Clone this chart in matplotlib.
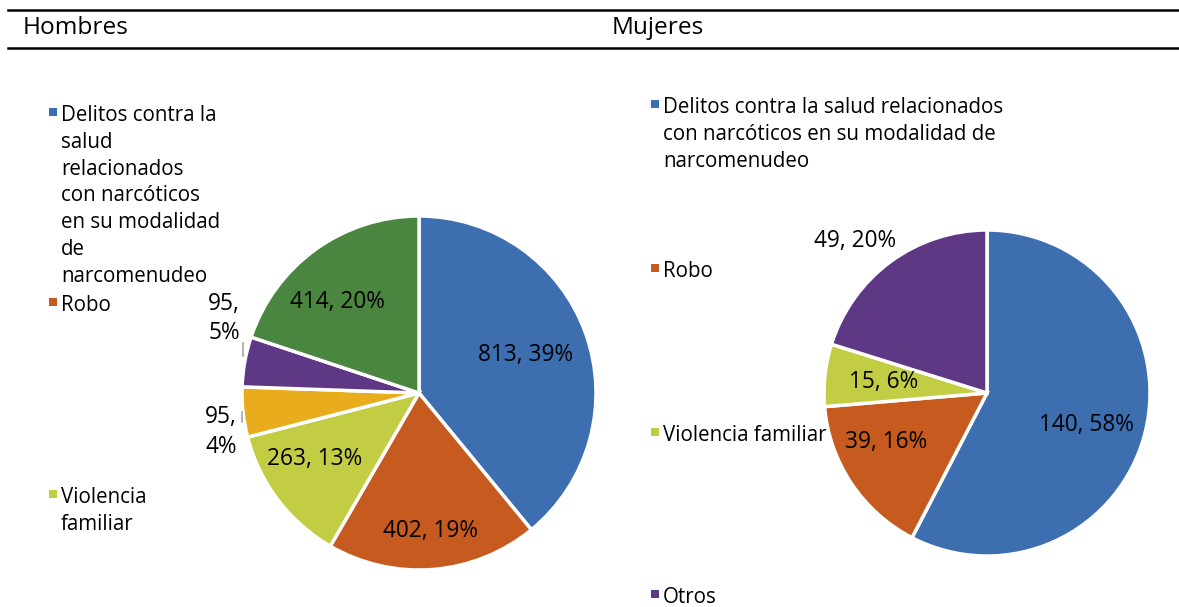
import matplotlib
matplotlib.use("Agg")
import matplotlib.pyplot as plt
from matplotlib.lines import Line2D
from matplotlib.patches import Rectangle
import numpy as np

plt.rcParams['font.family'] = ['Open Sans', 'DejaVu Sans']

# ---- data ----
hombres_vals = [813, 402, 263, 95, 95, 414]
hombres_pct = ["39%", "19%", "13%", "4%", "5%", "20%"]
hombres_colors = ["#3D6EB0", "#C65A1F", "#C3CD44", "#E8AC1C", "#5E3785", "#4A863F"]

mujeres_vals = [140, 39, 15, 49]
mujeres_pct = ["58%", "16%", "6%", "20%"]
mujeres_colors = ["#3D6EB0", "#C65A1F", "#C3CD44", "#5E3785"]

legend_left = ["Delitos contra la\nsalud\nrelacionados\ncon narcóticos\nen su modalidad\nde\nnarcomenudeo",
               "Robo", "Violencia\nfamiliar"]
legend_right = ["Delitos contra la salud relacionados\ncon narcóticos en su modalidad de\nnarcomenudeo",
                "Robo", "Violencia familiar", "Otros"]
legend_left_colors = ["#3D6EB0", "#C65A1F", "#C3CD44"]
legend_right_colors = ["#3D6EB0", "#C65A1F", "#C3CD44", "#5E3785"]

W, H = 1179, 607
fig = plt.figure(figsize=(W / 100, H / 100), dpi=100)
FS = 14.8      # legend text
FL = 16.3      # slice labels
FT = 17.6      # panel titles
LS = 1.36


def fx(px):
    return px / W


def fy(py):
    return 1 - py / H


# header rules and titles
for y in (9.5, 47.5):
    fig.add_artist(Line2D([fx(8), 1.0], [fy(y), fy(y)], color="black", lw=1.8))
fig.text(fx(23), fy(28), "Hombres", fontsize=FT, va="center", ha="left")
fig.text(fx(612), fy(28), "Mujeres", fontsize=FT, va="center", ha="left")


def make_pie(cx, cy, r, vals, colors):
    ax = fig.add_axes([fx(cx - r), fy(cy + r), (2 * r) / W, (2 * r) / H])
    wedges, _ = ax.pie(vals, colors=colors, startangle=90, counterclock=False,
                       wedgeprops=dict(edgecolor="white", linewidth=2.5))
    ax.set_xlim(-1, 1)
    ax.set_ylim(-1, 1)
    ax.set_aspect("equal")
    ax.axis("off")
    return ax, wedges


def inner_label(ax, wedge, text, frac, dang=0.0):
    ang = np.deg2rad((wedge.theta1 + wedge.theta2) / 2 + dang)
    ax.text(frac * np.cos(ang), frac * np.sin(ang), text, fontsize=FL,
            ha="center", va="center", clip_on=False)


# left pie (Hombres)
axL, wL = make_pie(419, 393, 177, hombres_vals, hombres_colors)
labelsL = [f"{v}, {p}" for v, p in zip(hombres_vals, hombres_pct)]
inner_label(axL, wL[0], labelsL[0], 0.64)
inner_label(axL, wL[1], labelsL[1], 0.78)
inner_label(axL, wL[2], labelsL[2], 0.70, -5)
inner_label(axL, wL[5], labelsL[5], 0.69, 6)
axL.text(-1.12, -0.22, f"{hombres_vals[3]},\n{hombres_pct[3]}", fontsize=FL,
         ha="center", va="center", clip_on=False, linespacing=1.3)
axL.text(-1.10, 0.42, f"{hombres_vals[4]},\n{hombres_pct[4]}", fontsize=FL,
         ha="center", va="center", clip_on=False, linespacing=1.3)
axL.add_line(Line2D([-1.0, -1.0], [-0.105, -0.165], color="#A6A6A6", lw=1.2, clip_on=False))
axL.add_line(Line2D([-0.995, -0.995], [0.28, 0.21], color="#A6A6A6", lw=1.2, clip_on=False))

# right pie (Mujeres)
axR, wR = make_pie(987, 393, 163, mujeres_vals, mujeres_colors)
labelsR = [f"{v}, {p}" for v, p in zip(mujeres_vals, mujeres_pct)]
inner_label(axR, wR[0], labelsR[0], 0.64, -4)
inner_label(axR, wR[1], labelsR[1], 0.69, -8)
inner_label(axR, wR[2], labelsR[2], 0.64)
axR.text(-0.81, 0.93, labelsR[3], fontsize=FL, ha="center", va="center", clip_on=False)

# legend entries: y is the pixel centre of the first text line
left_y = [112, 302, 494]
right_y = [104, 268, 432, 594]


def legend_block(x, ys, texts, colors):
    for yy, t, c in zip(ys, texts, colors):
        fig.add_artist(Rectangle((fx(x - 4), fy(yy + 4)), 8 / W, 8 / H,
                                 facecolor=c, edgecolor="none", transform=fig.transFigure))
        fig.text(fx(x + 8), fy(yy - 7), t, fontsize=FS, ha="left", va="top",
                 linespacing=LS)


legend_block(53, left_y, legend_left, legend_left_colors)
legend_block(655, right_y, legend_right, legend_right_colors)

fig.savefig("out.png", dpi=100)
